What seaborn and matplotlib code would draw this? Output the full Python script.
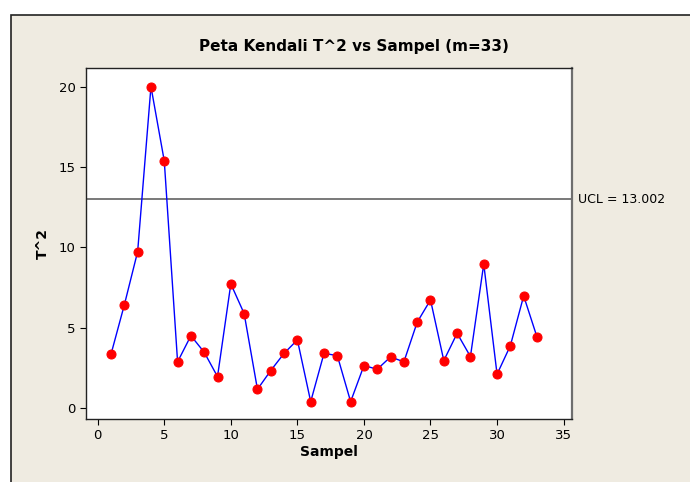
import matplotlib
matplotlib.use("Agg")
import matplotlib.pyplot as plt
import seaborn as sns
import numpy as np
from matplotlib.patches import Rectangle

# -----------------------------
# Data
# -----------------------------
sampel = list(range(1, 34))
t2 = [3.35, 6.42, 9.74, 20.02, 15.39, 2.87, 4.50, 3.47, 1.95, 7.73,
      5.88, 1.16, 2.33, 3.40, 4.24, 0.39, 3.40, 3.26, 0.39, 2.64,
      2.41, 3.18, 2.87, 5.34, 6.73, 2.95, 4.65, 3.20, 8.97, 2.10,
      3.88, 6.98, 4.42]
ucl = 13.002
x_ticks = [0, 5, 10, 15, 20, 25, 30, 35]
y_ticks = [0, 5, 10, 15, 20]

sns.set_style("white")
plt.rcParams['font.family'] = ['DejaVu Sans']
plt.rcParams['text.color'] = 'black'
plt.rcParams['axes.labelcolor'] = 'black'

fig = plt.figure(figsize=(6.9, 4.82), dpi=100)
fig.patch.set_facecolor("white")

# beige panel with dark frame
fig.patches.append(Rectangle((11/690, -0.05), 1.1, 1 - 15/482 + 0.05,
                             transform=fig.transFigure, facecolor="#EFEBE1",
                             edgecolor="#222222", linewidth=1.2, zorder=-10))

ax = fig.add_axes([86/690, 1 - 419/482, (572 - 86)/690, (419 - 68)/482])
ax.set_facecolor("white")

sns.lineplot(x=sampel, y=t2, ax=ax, color="blue", linewidth=1,
             marker="o", markersize=6.5, markerfacecolor="red",
             markeredgecolor="red", zorder=3)

ax.axhline(ucl, color="#6E6E6E", linewidth=1.3, zorder=2)
ax.text(1.012, ucl, f"UCL = {ucl:.3f}", transform=ax.get_yaxis_transform(),
        va="center", ha="left", fontsize=9, color="black")

ax.set_xlim(-0.88, 35.63)
ax.set_ylim(-0.69, 21.18)
ax.set_xticks(x_ticks)
ax.set_yticks(y_ticks)
ax.tick_params(axis="both", direction="out", length=4, width=0.8,
               labelsize=9.5, left=True, bottom=True, colors="black")
for s in ["left", "bottom", "top"]:
    ax.spines[s].set_color("#222222")
    ax.spines[s].set_linewidth(1)
ax.spines["right"].set_color("#6E6E6E")
ax.spines["right"].set_linewidth(1.6)

ax.set_xlabel("Sampel", fontsize=10, fontweight="bold", labelpad=2)
ax.set_ylabel("T^2", fontsize=10, fontweight="bold", labelpad=6)

fig.text(354/690, 1 - 46/482, "Peta Kendali T^2 vs Sampel (m=33)",
         ha="center", va="center", fontsize=11, fontweight="bold", color="black")

fig.savefig("out.png", dpi=100, facecolor=fig.get_facecolor())
